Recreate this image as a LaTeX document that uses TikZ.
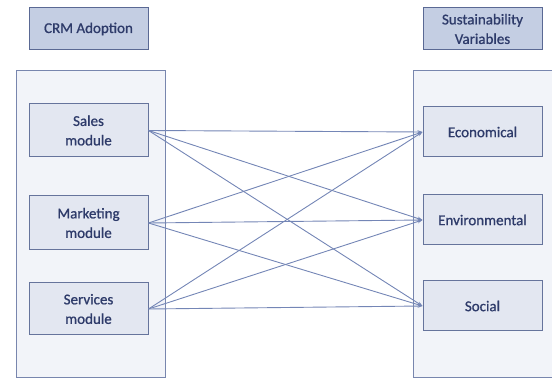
\documentclass[tikz,border=0pt]{standalone}
\usepackage{fontspec}
\setmainfont{Carlito}[FakeBold=0.9]
\usetikzlibrary{arrows.meta}
\definecolor{txt}{HTML}{2E3B6A}
\definecolor{titlefill}{HTML}{C4CEE3}
\definecolor{titledraw}{HTML}{5A6994}
\definecolor{boxfill}{HTML}{E3E7F1}
\definecolor{boxdraw}{HTML}{66749C}
\definecolor{contfill}{HTML}{F2F4F9}
\definecolor{contdraw}{HTML}{7886AE}
\definecolor{linecol}{HTML}{7486B6}
\tikzset{
  titlebox/.style={draw=titledraw, fill=titlefill, line width=1pt, minimum width=119pt, minimum height=42pt, inner sep=0pt, align=center, text=txt, font=\fontsize{15}{19.5}\selectfont},
  modbox/.style={draw=boxdraw, fill=boxfill, line width=1pt, minimum width=119pt, inner sep=0pt, align=center, text=txt, font=\fontsize{15}{19.5}\selectfont},
  container/.style={draw=contdraw, fill=contfill, line width=1pt},
  link/.style={draw=linecol, line width=0.9pt, -{Stealth[length=5pt,width=3.5pt]}}
}
\begin{document}
\begin{tikzpicture}[x=1pt,y=-1pt]
\useasboundingbox (0,0) rectangle (552,379);
% containers
\path[container] (16,71) rectangle (165,377.5);
\fill[contfill] (414,71.5) rectangle (552,377);
\draw[contdraw, line width=1pt] (553,71) -- (413.5,71) -- (413.5,377.5) -- (553,377.5);
% titles
\node[titlebox] (crm) at (88.5,29) {CRM Adoption};
\node[titlebox] (sus) at (482.5,29) {Sustainability\\Variables};
% left modules
\node[modbox, minimum height=53pt] (sales) at (88.5,130.5) {Sales\\module};
\node[modbox, minimum height=54pt] (mark) at (88.5,223) {Marketing\\module};
\node[modbox, minimum height=52pt] (serv) at (88.5,309) {Services\\module};
% right variables
\node[modbox, minimum height=50pt] (eco) at (482.5,132) {Economical};
\node[modbox, minimum height=50pt] (env) at (482.5,220) {Environmental};
\node[modbox, minimum height=50pt] (soc) at (482.5,306) {Social};
% links
\foreach \s in {sales,mark,serv}{
  \foreach \t in {eco,env,soc}{
    \draw[link] (\s.east) -- (\t.west);
  }
}
\end{tikzpicture}
\end{document}
